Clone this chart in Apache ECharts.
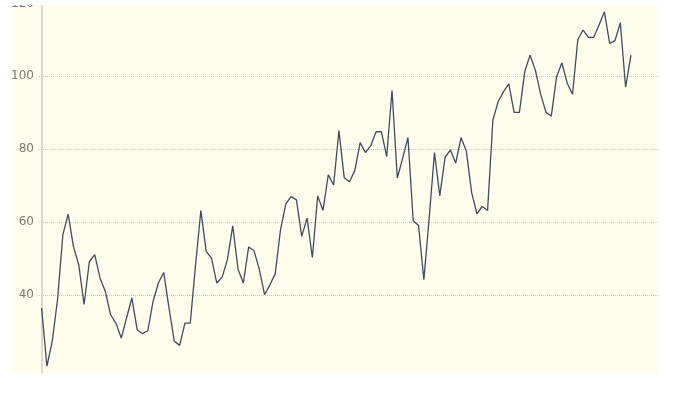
<!DOCTYPE html>
<html>
<head>
<meta charset="utf-8">
<script src="https://cdn.jsdelivr.net/npm/echarts@6/dist/echarts.min.js"></script>
<style>
html,body{margin:0;padding:0;background:#ffffff;width:676px;height:409px;overflow:hidden;}
#clip{position:absolute;left:12px;top:5px;width:646px;height:368px;overflow:hidden;background:#fffdec;}
#chart{position:absolute;left:-12px;top:-5px;width:676px;height:409px;}
</style>
</head>
<body>
<div id="clip"><div id="chart"></div></div>
<script>
// Series values (one point per step)
var values = [
  36.4, 20.5, 27.3, 38.7, 56.5, 62.2, 53.3, 48.3, 37.4, 49.2,
  51.1, 44.7, 41.0, 34.6, 32.3, 28.2, 33.7, 39.2, 30.5, 29.4,
  30.2, 38.3, 43.3, 46.2, 36.4, 27.3, 26.2, 32.3, 32.3, 48.3,
  63.2, 52.0, 50.1, 43.3, 44.9, 49.7, 59.0, 47.1, 43.3, 53.2,
  52.2, 47.1, 40.1, 42.8, 45.8, 57.9, 65.0, 67.0, 66.1, 56.1,
  61.1, 50.3, 67.2, 63.2, 73.0, 70.2, 85.1, 72.2, 71.1, 74.2,
  81.8, 79.1, 81.0, 84.8, 84.8, 78.0, 96.1, 72.1, 77.5, 83.2,
  60.4, 59.1, 44.2, 61.1, 79.1, 67.2, 77.8, 79.8, 76.2, 83.2,
  79.5, 68.1, 62.3, 64.3, 63.2, 88.0, 93.1, 95.8, 97.9, 90.1,
  90.1, 101.3, 105.8, 101.7, 95.1, 90.1, 89.1, 99.9, 103.7, 98.1,
  95.1, 110.1, 112.7, 110.7, 110.7, 114.1, 117.7, 109.0, 109.8, 114.7,
  97.0, 105.8
];
var yTicks = [40, 60, 80, 100, 120];

var points = values.map(function (v, i) { return [i, v]; });

var chart = echarts.init(document.getElementById('chart'), null, {renderer: 'canvas'});
chart.setOption({
  backgroundColor: 'transparent',
  animation: false,
  grid: [
    {left: 39, right: 18, top: 3.4, bottom: 36.3, outerBoundsMode: 'none', containLabel: false},
    {left: 39, right: 18, top: 3.4, bottom: 114, outerBoundsMode: 'none', containLabel: false}
  ],
  xAxis: [
    {type: 'value', gridIndex: 0, min: -0.49, max: 116.1, show: false},
    {type: 'value', gridIndex: 1, min: 0, max: 1, show: false}
  ],
  yAxis: [
    {
      type: 'value', gridIndex: 0, min: 18.7, max: 120,
      axisLine: {show: true, lineStyle: {color: '#cfcfc6', width: 1.5}},
      axisTick: {show: false}, axisLabel: {show: false}, splitLine: {show: false}
    },
    {
      type: 'value', gridIndex: 1, min: yTicks[0], max: yTicks[yTicks.length - 1], interval: 20,
      axisLine: {show: false}, axisTick: {show: false},
      axisLabel: {color: '#7a7a72', fontSize: 12, margin: 5, fontFamily: 'DejaVu Sans', verticalAlign: 'middle'},
      splitLine: {show: true, lineStyle: {color: '#c9c9bd', type: 'dotted', width: 1}}
    }
  ],
  series: [{
    type: 'line',
    xAxisIndex: 0, yAxisIndex: 0,
    data: points,
    showSymbol: false,
    symbol: 'none',
    lineStyle: {color: '#3d4d60', width: 1.3},
    z: 3
  }]
});
</script>
</body>
</html>
